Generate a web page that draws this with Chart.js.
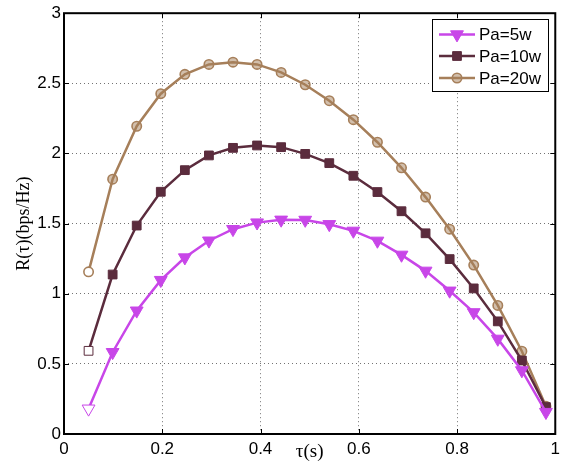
<!DOCTYPE html>
<html lang="en">
<head>
    <meta charset="UTF-8">
    <title>R(τ) vs τ</title>
    <script src="https://cdn.jsdelivr.net/npm/chart.js"></script>
    <style>
        html, body {
            margin: 0;
            padding: 0;
            background-color: #fff;
        }
        .wrap {
            width: 565px;
            height: 464px;
        }
    </style>
</head>
<body>
    <div class="wrap">
        <canvas id="rateChart" width="565" height="464"></canvas>
    </div>

    <script>
        // sample times tau (s)
        const tau = [0.05, 0.099, 0.148, 0.197, 0.246, 0.295, 0.344, 0.393, 0.442, 0.491,
                     0.54, 0.589, 0.638, 0.687, 0.736, 0.785, 0.834, 0.883, 0.932, 0.981];

        // rate R(tau) in bps/Hz for each transmit power
        const rate5w  = [0.18, 0.583, 0.879, 1.097, 1.258, 1.378, 1.46, 1.507, 1.527, 1.526,
                         1.495, 1.448, 1.377, 1.277, 1.163, 1.021, 0.867, 0.678, 0.453, 0.156];
        const rate10w = [0.593, 1.137, 1.486, 1.727, 1.881, 1.986, 2.04, 2.057, 2.045, 1.997,
                         1.931, 1.841, 1.725, 1.588, 1.431, 1.247, 1.038, 0.803, 0.524, 0.192];
        const rate20w = [1.156, 1.817, 2.194, 2.426, 2.564, 2.635, 2.651, 2.635, 2.578, 2.49,
                         2.376, 2.241, 2.08, 1.898, 1.689, 1.46, 1.204, 0.917, 0.59, 0.197];

        const seriesNames = ['Pa=5w', 'Pa=10w', 'Pa=20w'];

        const xTicks = [0, 0.2, 0.4, 0.6, 0.8, 1];
        const xTickLabels = ['0', '0.2', '0.4', '0.6', '0.8', '1'];
        const yTicks = [0, 0.5, 1, 1.5, 2, 2.5, 3];
        const yTickLabels = ['0', '0.5', '1', '1.5', '2', '2.5', '3'];

        const SANS = "'Liberation Sans', Arial, Helvetica, sans-serif";
        const SERIF = "'Liberation Serif', 'Times New Roman', serif";

        const magenta = '#c846e8';
        const plum = '#5b2c3d';
        const tan = '#a67f5a';

        function toPoints(ys) {
            return tau.map((t, i) => ({ x: t, y: ys[i] }));
        }

        // the first marker of each curve is drawn hollow
        function firstHollow(color) {
            return ctx => ctx.dataIndex === 0 ? '#fff' : color;
        }

        const markerStyles = [
            { style: 'triangle', rotation: 180, radius: 7.4, color: magenta, fill: magenta, border: 1 },
            { style: 'rect', rotation: 0, radius: 6.2, color: plum, fill: plum, border: 1 },
            { style: 'circle', rotation: 0, radius: 4.7, color: tan, fill: 'rgba(166,127,90,0.5)', border: 1.6 }
        ];

        const datasets = [rate5w, rate10w, rate20w].map((ys, i) => {
            const m = markerStyles[i];
            return {
                label: seriesNames[i],
                data: toPoints(ys),
                borderColor: m.color,
                borderWidth: 2.5,
                pointStyle: m.style,
                pointRotation: m.rotation,
                pointRadius: m.radius,
                pointBorderWidth: m.border,
                pointBorderColor: m.color,
                pointBackgroundColor: firstHollow(m.fill),
                tension: 0,
                fill: false
            };
        });

        function gridColor(maxVal) {
            return ctx => (ctx.tick && (ctx.tick.value === 0 || ctx.tick.value === maxVal))
                ? 'rgba(0,0,0,0)' : 'rgba(0,0,0,0.55)';
        }

        // box around the plot with inward tick marks on all four sides
        const framePlugin = {
            id: 'frame',
            afterDraw(chart) {
                const { ctx, chartArea: a, scales } = chart;
                ctx.save();
                ctx.strokeStyle = '#000';
                ctx.lineWidth = 1;
                const tl = 5;
                ctx.beginPath();
                xTicks.forEach(v => {
                    const px = Math.round(scales.x.getPixelForValue(v)) + 0.5;
                    ctx.moveTo(px, a.bottom); ctx.lineTo(px, a.bottom - tl);
                    ctx.moveTo(px, a.top); ctx.lineTo(px, a.top + tl);
                });
                yTicks.forEach(v => {
                    const py = Math.round(scales.y.getPixelForValue(v)) + 0.5;
                    ctx.moveTo(a.left, py); ctx.lineTo(a.left + tl, py);
                    ctx.moveTo(a.right, py); ctx.lineTo(a.right - tl, py);
                });
                ctx.stroke();
                ctx.lineWidth = 2;
                ctx.strokeRect(a.left, a.top, a.right - a.left, a.bottom - a.top);
                ctx.restore();
            }
        };

        function drawMarker(ctx, m, x, y) {
            ctx.save();
            ctx.fillStyle = m.fill;
            ctx.strokeStyle = m.color;
            ctx.lineWidth = m.border;
            ctx.beginPath();
            if (m.style === 'triangle') {
                const r = m.radius;
                ctx.moveTo(x - r * 0.866, y - r * 0.5);
                ctx.lineTo(x + r * 0.866, y - r * 0.5);
                ctx.lineTo(x, y + r);
                ctx.closePath();
            } else if (m.style === 'rect') {
                const s = m.radius * Math.SQRT1_2;
                ctx.rect(x - s, y - s, 2 * s, 2 * s);
            } else {
                ctx.arc(x, y, m.radius, 0, Math.PI * 2);
            }
            ctx.fill();
            ctx.stroke();
            ctx.restore();
        }

        // legend box in the upper right corner of the plot
        const legendPlugin = {
            id: 'boxLegend',
            afterDraw(chart) {
                const ctx = chart.ctx;
                const box = { x: 432.5, y: 19.5, w: 116, h: 72 };
                const rowY = [34.5, 56, 78];
                ctx.save();
                ctx.fillStyle = '#fff';
                ctx.fillRect(box.x, box.y, box.w, box.h);
                ctx.strokeStyle = '#000';
                ctx.lineWidth = 1;
                ctx.strokeRect(box.x, box.y, box.w, box.h);
                ctx.font = '17px ' + SANS;
                ctx.textBaseline = 'middle';
                ctx.textAlign = 'left';
                seriesNames.forEach((name, i) => {
                    const m = markerStyles[i];
                    const y = rowY[i];
                    ctx.strokeStyle = m.color;
                    ctx.lineWidth = 2.5;
                    ctx.beginPath();
                    ctx.moveTo(439, y);
                    ctx.lineTo(475, y);
                    ctx.stroke();
                    drawMarker(ctx, m, 457, y);
                    ctx.fillStyle = '#000';
                    ctx.fillText(name, 479, y + 1);
                });
                ctx.restore();
            }
        };

        const config = {
            type: 'line',
            data: { datasets: datasets },
            options: {
                responsive: false,
                animation: false,
                layout: {
                    padding: { top: 11, right: 9, left: 0, bottom: 0 }
                },
                plugins: {
                    legend: { display: false },
                    tooltip: { enabled: false }
                },
                scales: {
                    x: {
                        type: 'linear',
                        min: 0,
                        max: 1,
                        afterBuildTicks: s => { s.ticks = xTicks.map(v => ({ value: v })); },
                        afterFit: s => { s.height = 30; },
                        ticks: {
                            callback: (v, i) => xTickLabels[i],
                            color: '#000',
                            padding: 5,
                            maxRotation: 0,
                            font: { family: SANS, size: 17 }
                        },
                        grid: { drawTicks: false, color: gridColor(1), lineWidth: 1 },
                        border: { display: false, dash: [1, 3] },
                        title: {
                            display: true,
                            text: 'τ(s)',
                            color: '#000',
                            font: { family: SERIF, size: 19, lineHeight: 1.2 },
                            padding: { top: 0, bottom: 1 }
                        }
                    },
                    y: {
                        type: 'linear',
                        min: 0,
                        max: 3,
                        afterBuildTicks: s => { s.ticks = yTicks.map(v => ({ value: v })); },
                        afterFit: s => { s.width = 64; },
                        ticks: {
                            callback: (v, i) => yTickLabels[i],
                            color: '#000',
                            padding: 3,
                            font: { family: SANS, size: 17 }
                        },
                        grid: { drawTicks: false, color: gridColor(3), lineWidth: 1 },
                        border: { display: false, dash: [1, 3] },
                        title: {
                            display: true,
                            text: 'R(τ)(bps/Hz)',
                            color: '#000',
                            font: { family: SERIF, size: 18, lineHeight: 1.2 },
                            padding: { top: 13, bottom: 0 }
                        }
                    }
                }
            },
            plugins: [framePlugin, legendPlugin]
        };

        const rateChart = new Chart(document.getElementById('rateChart').getContext('2d'), config);
    </script>
</body>
</html>
